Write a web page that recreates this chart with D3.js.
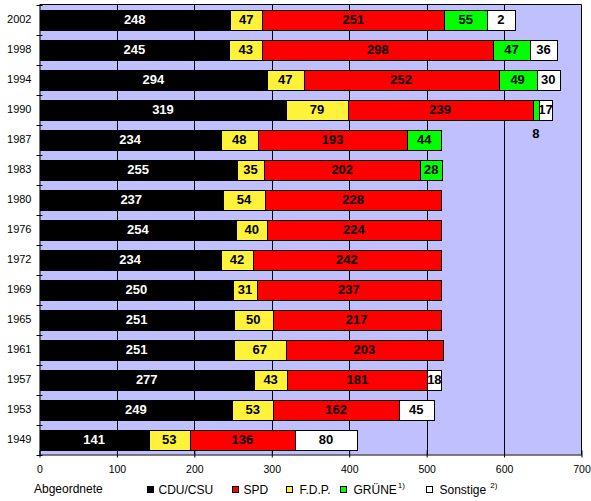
<!DOCTYPE html>
<html><head><meta charset="utf-8">
<script src="https://cdn.jsdelivr.net/npm/d3@7/dist/d3.min.js"></script>
<style>
html,body{margin:0;padding:0;background:#fff;}
svg{display:block;font-family:Arial,"Liberation Sans",sans-serif;}
</style></head>
<body><svg id="c" width="591" height="501"></svg>
<script>
const years    = ["2002","1998","1994","1990","1987","1983","1980","1976","1972","1969","1965","1961","1957","1953","1949"];
const cdu      = [248,245,294,319,234,255,237,254,234,250,251,251,277,249,141];
const fdp      = [47,43,47,79,48,35,54,40,42,31,50,67,43,53,53];
const spd      = [251,298,252,239,193,202,228,224,242,237,217,203,181,162,136];
const gruene   = [55,47,49,8,44,28,0,0,0,0,0,0,0,0,0];
const sonstige = [2,36,30,17,0,0,0,0,0,0,0,0,18,45,80];
// the 2002 bar is drawn with these lengths in the source (labels above are printed)
const drawn2002 = [246,42,235,55,36];
const xTicks = [0,100,200,300,400,500,600,700];
const parties = ["CDU/CSU","F.D.P.","SPD","GRÜNE","Sonstige"];
const partyColors = ["#000000","#FFF23A","#FF0000","#00FF00","#FFFFFF"];
const labelColors = ["#FFFFFF","#000000","#000000","#000000","#000000"];
const legendOrder = ["CDU/CSU","SPD","F.D.P.","GRÜNE","Sonstige"];
const legendNotes = {"GRÜNE":"1)","Sonstige":"2)"};

const svg = d3.select("#c");
const M = {left:39.5, top:4.5, right:581.5, bottom:454.5};
const x = d3.scaleLinear().domain([0,700]).range([M.left, M.right]);
const y = d3.scaleBand().domain(years).range([M.top, M.bottom]).paddingInner(1/3).paddingOuter(1/6);

// plot background
svg.append("rect").attr("x",M.left).attr("y",M.top).attr("width",M.right-M.left).attr("height",M.bottom-M.top)
  .attr("fill","#C0C0FF");
// gridlines
svg.append("g").selectAll("line").data(xTicks.filter(d=>d>0&&d<700)).join("line")
  .attr("x1",d=>Math.round(x(d))+0.5).attr("x2",d=>Math.round(x(d))+0.5)
  .attr("y1",M.top).attr("y2",M.bottom).attr("stroke","#000").attr("stroke-width",1);

// bars
const series = [cdu,fdp,spd,gruene,sonstige];
const rows = years.map((yr,i)=>{
  const vals = series.map(s=>s[i]);
  const lens = yr==="2002" ? drawn2002 : vals;
  let acc=0;
  return vals.map((v,k)=>{const s=acc; acc+=lens[k]; return {yr, k, v, x0:s, x1:acc};}).filter(d=>d.v>0);
});
const segs = rows.flat();
const g = svg.append("g");
g.selectAll("rect").data(segs).join("rect")
  .attr("x",d=>Math.round(x(d.x0))+0.5).attr("width",d=>Math.round(x(d.x1))-Math.round(x(d.x0)))
  .attr("y",d=>Math.round(y(d.yr))+0.5).attr("height",Math.round(y.bandwidth()))
  .attr("fill",d=>partyColors[d.k]).attr("stroke","#000").attr("stroke-width",1);
g.selectAll("text").data(segs).join("text")
  .attr("x",d=>(x(d.x0)+x(d.x1))/2)
  .attr("y",d=>{const narrow = x(d.x1)-x(d.x0) < 10; return y(d.yr)+y.bandwidth()/2 + (narrow?24:0);})
  .attr("dy","0.36em").attr("text-anchor","middle")
  .attr("font-size","13px").attr("font-weight","bold")
  .attr("fill",d=>{const narrow = x(d.x1)-x(d.x0) < 10; return narrow?"#000":labelColors[d.k];})
  .text(d=>d.v);

// plot border (top/right)
svg.append("path").attr("d",`M${M.left},${M.top}H${M.right}V${M.bottom}`).attr("fill","none").attr("stroke","#000");

// x axis
const xa = svg.append("g").attr("transform",`translate(0,${M.bottom})`)
  .call(d3.axisBottom(x).tickValues(xTicks).tickSizeInner(3).tickSizeOuter(0).tickPadding(8));
xa.select(".domain").attr("stroke","#000");
xa.selectAll(".tick line").attr("y1",-4).attr("y2",3);
xa.selectAll("text").attr("font-size","10.5px").attr("font-family","Arial,'Liberation Sans',sans-serif").attr("fill","#000");

// y axis
const ya = svg.append("g").attr("transform",`translate(${M.left},0)`)
  .call(d3.axisLeft(y).tickSize(0).tickPadding(8));
ya.select(".domain").attr("stroke","#000");
ya.selectAll("text").attr("font-size","11px").attr("font-family","Arial,'Liberation Sans',sans-serif").attr("fill","#000");
// category separator ticks
const step = y.step();
const bounds = d3.range(years.length+1).map(i=>M.top + i*step);
ya.append("g").selectAll("line").data(bounds).join("line")
  .attr("x1",-3).attr("x2",3).attr("y1",d=>Math.round(d)+0.5).attr("y2",d=>Math.round(d)+0.5).attr("stroke","#000");

// legend
svg.append("text").attr("x",34).attr("y",493).attr("font-size","12px").attr("fill","#000").text("Abgeordnete");
const legX = {"CDU/CSU":147.5,"SPD":232.5,"F.D.P.":286.5,"GRÜNE":340.5,"Sonstige":426.5};
const lg = svg.append("g").selectAll("g").data(legendOrder).join("g")
  .attr("transform",d=>`translate(${legX[d]},486.5)`);
lg.append("rect").attr("width",6).attr("height",6)
  .attr("fill",d=>partyColors[parties.indexOf(d)]).attr("stroke","#000");
const lt = lg.append("text").attr("x",d=>d==="GRÜNE"||d==="Sonstige"||d==="F.D.P."?13:11).attr("y",7).attr("font-size","12px").attr("fill","#000");
lt.append("tspan").text(d=>d);
lt.filter(d=>legendNotes[d]).append("tspan").attr("font-size","8px").attr("dx",d=>d==="Sonstige"?4:1).attr("dy",-6).text(d=>legendNotes[d]);
</script></body></html>
